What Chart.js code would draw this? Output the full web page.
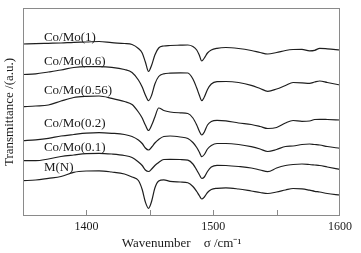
<!DOCTYPE html>
<html>
<head>
<meta charset="utf-8">
<script src="https://cdn.jsdelivr.net/npm/chart.js@4.4.1/dist/chart.umd.min.js"></script>
<style>
  html, body { margin: 0; padding: 0; background: #fff; }
  #chart { display: block; }
</style>
</head>
<body>
<canvas id="chart" width="361" height="253"></canvas>
<script>
// wavenumber grid (cm-1) shared by all spectra
const wavenumbers = [1350, 1360, 1370, 1380, 1390, 1400, 1410, 1420, 1430, 1436,
    1441, 1444, 1446.5, 1449, 1451.5, 1454, 1457, 1461, 1466, 1474,
    1480, 1484, 1487, 1489, 1491, 1493, 1495.5, 1498.5, 1503, 1510,
    1520, 1530, 1537, 1543, 1550, 1557, 1563, 1570, 1576, 1580,
    1584, 1590, 1600]

const seriesNames = ['Co/Mo(1)', 'Co/Mo(0.6)', 'Co/Mo(0.56)', 'Co/Mo(0.2)', 'Co/Mo(0.1)', 'M(N)']

// transmittance, arbitrary units (curves are stacked with offsets)
const coMo1 = [172, 172.4, 172.7, 173, 173.7, 174, 174.5, 173.3, 172.5, 171.5,
    167.5, 163, 154, 144.5, 151, 161, 168, 170, 170.5, 170.8,
    171, 169.5, 166, 161, 155, 158, 163, 166, 167.7, 168.5,
    167.5, 165.5, 163.5, 162, 163.5, 165.5, 166.5, 166.7, 165.2, 165.7,
    167.7, 167.2, 166]
const coMo06 = [141.5, 142.2, 144, 146, 148.5, 149.3, 149.3, 148.7, 146.5, 143.5,
    136, 129, 121, 115.3, 121, 132, 139.5, 142.2, 142.8, 143.2,
    143, 137, 128, 121, 115.3, 119, 126.5, 132, 134.3, 134.5,
    133.5, 130.7, 127.5, 124.7, 127, 130.5, 133.5, 133.2, 132.7, 134,
    135, 133.5, 131]
const coMo056 = [109.3, 110, 111, 115, 118.5, 119.7, 120, 117.7, 114.5, 111.5,
    104, 98, 91, 85.5, 91, 99, 108, 105.5, 104, 103.2,
    102.5, 98, 91, 85, 81, 84, 91, 94.5, 95.7, 95.2,
    93, 91.5, 89.5, 87.5, 88.5, 93, 95.5, 94.7, 95, 96.5,
    96.7, 96.5, 96]
const coMo02 = [75.3, 76.2, 77.7, 80, 81.5, 82.8, 83.3, 82.7, 81.5, 79.5,
    76, 72.5, 68, 66, 69, 73, 76.5, 79.5, 80, 79,
    77.5, 73.5, 68.5, 64, 59.3, 61.5, 67, 70.5, 72.5, 72.5,
    71.5, 69.3, 67, 64.5, 66.5, 69.5, 70, 71.5, 72, 71.5,
    71, 69.5, 67.7]
const coMo01 = [55.3, 55.3, 57, 59.5, 61, 62.3, 62.7, 62, 60.5, 58.5,
    54, 50.5, 46, 44.5, 47, 50.5, 53.5, 56.5, 56.7, 56.5,
    55.8, 52, 46, 41.5, 37.5, 39, 44.5, 49, 50.7, 50.5,
    49.5, 48, 46, 44.3, 48, 50.5, 51.5, 52, 51.5, 51,
    50.5, 49, 46.7]
const mN = [35.3, 36, 37.7, 39.5, 43.7, 45, 45.2, 44, 42, 39,
    35.5, 26.5, 14, 7.7, 15, 28, 35, 36.2, 34.7, 34,
    33.2, 29.5, 24.5, 20.5, 17, 19, 23.5, 26.5, 27.7, 28.2,
    27, 25, 23.5, 22.5, 24, 26, 27.5, 27.2, 25.8, 24.7,
    24, 22.5, 21]

const labelTicks = [1400, 1500, 1600]

const allSeries = [coMo1, coMo06, coMo056, coMo02, coMo01, mN]

const serif = '"Liberation Serif", "Times New Roman", serif'

// frame, inward ticks and curve names
const decorPlugin = {
    id: 'decor',
    afterDraw(chart, args, opts) {
        const {ctx, chartArea: a, scales: {x, y}} = chart
        ctx.save()
        ctx.strokeStyle = '#8a8a8a'
        ctx.lineWidth = 1
        ctx.strokeRect(a.left + 0.5, a.top + 0.5, a.right - a.left - 1, a.bottom - a.top - 1)
        x.ticks.forEach(t => {
            if (t.value <= x.min || t.value >= x.max) return
            const px = Math.round(x.getPixelForValue(t.value)) + 0.5
            ctx.beginPath()
            ctx.moveTo(px, a.bottom)
            ctx.lineTo(px, a.bottom - 6)
            ctx.stroke()
        })
        ctx.fillStyle = '#1a1a1a'
        ctx.font = '13px ' + serif
        ctx.textBaseline = 'middle'
        ctx.textAlign = 'left'
        seriesNames.forEach((name, i) => {
            ctx.fillText(name, x.getPixelForValue(opts.labelX), y.getPixelForValue(opts.labelLevels[i]))
        })
        ctx.restore()
    }
}

new Chart(document.getElementById('chart'), {
    type: 'line',
    data: {
        datasets: allSeries.map((values, i) => ({
            label: seriesNames[i],
            data: wavenumbers.map((w, j) => ({x: w, y: values[j]})),
            borderColor: '#1e1e1e',
            borderWidth: 1.2,
            pointRadius: 0,
            cubicInterpolationMode: 'monotone',
            fill: false
        }))
    },
    options: {
        responsive: false,
        animation: false,
        devicePixelRatio: 1,
        layout: {padding: {top: 8, right: 21, left: 0, bottom: 0}},
        plugins: {
            legend: {display: false},
            tooltip: {enabled: false},
            decor: {
                labelX: 1366.5,
                labelLevels: [178.5, 154.5, 125.5, 92.5, 68, 48]
            }
        },
        scales: {
            x: {
                type: 'linear',
                min: 1350,
                max: 1600,
                grid: {display: false, drawTicks: false},
                border: {display: false},
                ticks: {
                    stepSize: 50,
                    padding: 4,
                    color: '#1a1a1a',
                    font: {family: serif, size: 12},
                    callback: (value) => labelTicks.includes(value) ? String(value) : ''
                },
                title: {
                    display: true,
                    text: 'Wavenumber    σ /cm⁻¹',
                    color: '#1a1a1a',
                    font: {family: serif, size: 13},
                    padding: {top: 0, bottom: 2}
                },
                afterFit: (scale) => { scale.height = 37 }
            },
            y: {
                min: 0,
                max: 208,
                grid: {display: false, drawTicks: false},
                border: {display: false},
                ticks: {display: false},
                title: {
                    display: true,
                    text: 'Transmittance /(a.u.)',
                    color: '#1a1a1a',
                    font: {family: serif, size: 13},
                    padding: {top: 2, bottom: 0}
                },
                afterFit: (scale) => { scale.width = 23 }
            }
        }
    },
    plugins: [decorPlugin]
})
</script>
</body>
</html>
